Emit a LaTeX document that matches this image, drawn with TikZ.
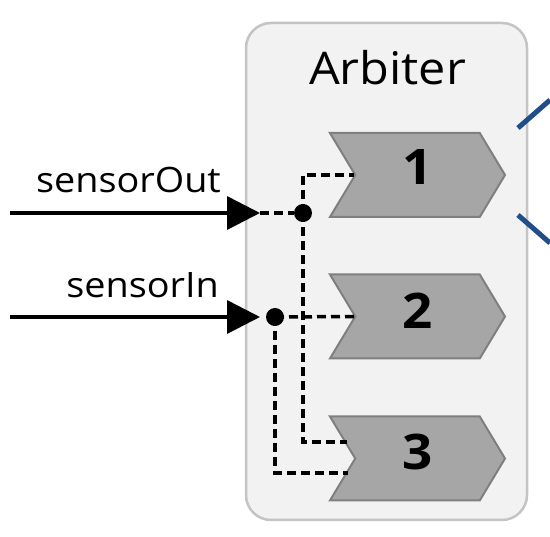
\documentclass[tikz,border=0pt]{standalone}
\usepackage{fontspec}
\newfontfamily\arbfont[FakeStretch=1.08]{Open Sans}
\usetikzlibrary{arrows.meta,positioning,shapes.symbols}
\definecolor{boxfill}{HTML}{F2F2F2}
\definecolor{boxline}{HTML}{C4C4C4}
\definecolor{chevfill}{HTML}{A6A6A6}
\definecolor{chevline}{HTML}{7F7F7F}
\definecolor{linkblue}{HTML}{1F4E8A}
\tikzset{
  arbiterbox/.style={draw=boxline, line width=2.5pt, fill=boxfill, rounded corners=25pt,
    minimum width=281pt, minimum height=497pt, inner sep=0pt},
  chevron/.style={shape=signal, signal to=east, signal from=west, signal pointer angle=118,
    draw=chevline, line width=2pt, fill=chevfill, minimum width=175pt, minimum height=84pt, inner sep=0pt},
  digit/.style={font=\arbfont\bfseries\fontsize{49}{50}\selectfont, inner sep=0pt},
  portlabel/.style={font=\arbfont\fontsize{35}{36}\selectfont, inner sep=0pt, anchor=base east},
  wire/.style={line width=3.5pt, -{Triangle[length=33pt,width=33pt]}},
  link/.style={line width=3.5pt, dash pattern=on 9pt off 5pt},
  junction/.style={circle, fill=black, inner sep=0pt, minimum size=18pt},
  outlink/.style={line width=5pt, draw=linkblue}
}
\begin{document}
\begin{tikzpicture}[x=1pt, y=-1pt]
\useasboundingbox (0,0) rectangle (550,537);

\node[arbiterbox] (arbiter) at (386.5,271.5) {};
\node[font=\arbfont\fontsize{45}{46}\selectfont, inner sep=0pt, anchor=base] (title) at (387.5,85) {Arbiter};

\node[chevron] (ch1) at (417.5,175) {};
\node[chevron] (ch2) at (417.5,316.5) {};
\node[chevron] (ch3) at (417.5,458.5) {};
\node[digit] (n1) at ([yshift=8pt]ch1.center) {1};
\node[digit] (n2) at ([yshift=6pt]ch2.center) {2};
\node[digit] (n3) at ([yshift=7pt]ch3.center) {3};

\node[portlabel] (outlbl) at (221,193) {sensorOut};
\node[portlabel] (inlbl) at (219,298) {sensorIn};

\coordinate (outsrc) at (10,213);
\coordinate (outport) at (260,213);
\coordinate (insrc) at (10,317);
\coordinate (inport) at (260,317);
\node[junction] (outdot) at (303,213) {};
\node[junction] (indot) at (275,317) {};
\coordinate (ch3top) at (347,442);
\coordinate (ch3low) at (348,473);

\draw[wire] (outsrc) -- (outport);
\draw[wire] (insrc) -- (inport);
\draw[link] (outport) -- (outdot);
\draw[link] (outdot.center) |- (ch1.west);
\draw[link] (outdot.center) |- (ch3top);
\draw[link] (indot.center) -- (ch2.west);
\draw[link] (indot.center) |- (ch3low);

\coordinate (up1) at (518,128);
\coordinate (up2) at (550,100);
\coordinate (lo1) at (518,215);
\coordinate (lo2) at (550,243);
\draw[outlink] (up1) -- (up2);
\draw[outlink] (lo1) -- (lo2);
\end{tikzpicture}
\end{document}
